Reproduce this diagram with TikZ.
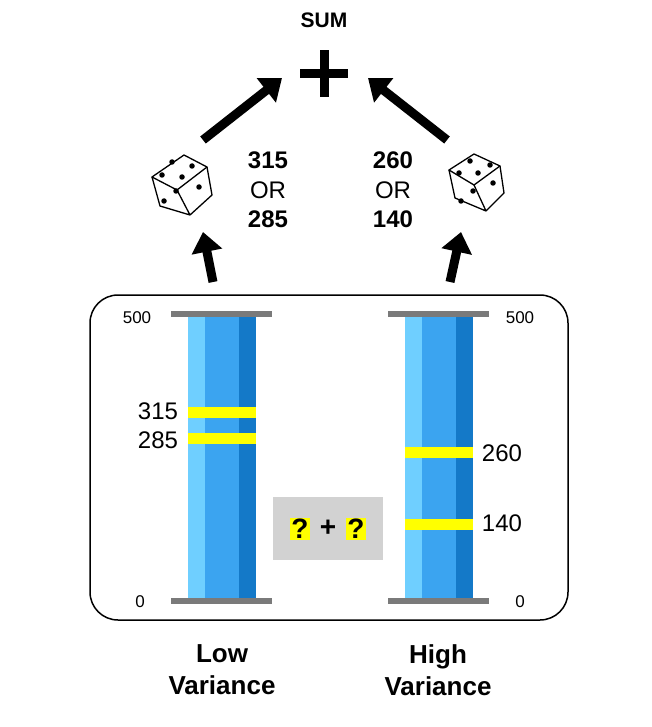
\documentclass[tikz,border=0pt]{standalone}
\usepackage{fontspec}
\setmainfont{Liberation Sans}
\usetikzlibrary{arrows.meta}
\definecolor{lb}{HTML}{6FCFFF}
\definecolor{mb}{HTML}{3BA4F0}
\definecolor{db}{HTML}{1479C8}
\definecolor{yl}{HTML}{FFFF00}
\definecolor{gb}{HTML}{7A7A7A}
\definecolor{qg}{HTML}{D2D2D2}
\begin{document}
\begin{tikzpicture}[x=1pt,y=-1pt,
  bigarrow/.style={line width=9pt,-{Triangle[length=20pt,width=30pt]}},
  lbl/.style={font=\fontsize{24}{24}\selectfont},
  blbl/.style={font=\bfseries\fontsize{26}{32}\selectfont,align=center},
  tick/.style={font=\fontsize{17}{17}\selectfont},
  qm/.style={font=\bfseries\fontsize{28}{28}\selectfont},
  dot/.style={fill=black,circle,inner sep=0pt,minimum size=5.5pt},
  die/.style={line width=1.3pt,line join=round}]
\useasboundingbox (0,0) rectangle (652,727);
\draw[line width=1.5pt,rounded corners=28pt] (90,295) rectangle (568,620);
% columns
\foreach \x in {188,405}{
  \fill[lb] (\x,315) rectangle (\x+17,600);
  \fill[mb] (\x+17,315) rectangle (\x+51,600);
  \fill[db] (\x+51,315) rectangle (\x+68,600);
  \fill[gb] (\x-17,311) rectangle (\x+84,317);
  \fill[gb] (\x-17,598) rectangle (\x+84,604);
}
\foreach \x/\y in {188/412,188/438,405/452,405/524}{
  \fill[yl] (\x,\y-5.5) rectangle (\x+68,\y+5.5);
}
\node[tick] (a500) at (137,318) {500};
\node[tick] (a0) at (140,602) {0};
\node[lbl] (a315) at (158,411) {315};
\node[lbl] (a285) at (158,440) {285};
\node[tick] (b500) at (520,318) {500};
\node[tick] (b0) at (520,602) {0};
\node[lbl] (b260) at (502,453) {260};
\node[lbl] (b140) at (502,523) {140};
% ? + ?
\fill[qg] (273,497) rectangle (383,560);
\node[fill=yl,inner sep=1.5pt,qm] (q1) at (300,529) {?};
\node[qm] (pl) at (328,528) {+};
\node[fill=yl,inner sep=1.5pt,qm] (q2) at (356,529) {?};
\node[blbl] (low) at (222,670) {Low\\Variance};
\node[blbl] (high) at (438,670) {High\\Variance};
\node[font=\bfseries\fontsize{21}{21}\selectfont] (sum) at (324,20) {SUM};
\fill (300,69) rectangle (348,78);
\fill (319.5,50) rectangle (328.5,97);
\node[align=center,font=\fontsize{24}{29.5}\selectfont] (lt) at (268,190) {\textbf{315}\\OR\\\textbf{285}};
\node[align=center,font=\fontsize{24}{29.5}\selectfont] (rt) at (393,190) {\textbf{260}\\OR\\\textbf{140}};
% arrows
\coordinate (l1) at (203,140); \coordinate (l2) at (282,78);
\coordinate (r1) at (447,140); \coordinate (r2) at (368,78);
\draw[bigarrow] (l1) -- (l2);
\draw[bigarrow] (r1) -- (r2);
\coordinate (l3) at (213,282); \coordinate (l4) at (203,232);
\coordinate (r3) at (450,282); \coordinate (r4) at (461,232);
\draw[bigarrow] (l3) -- (l4);
\draw[bigarrow] (r3) -- (r4);
% left die
\draw[die,fill=white] (152,177) -- (184,155) -- (207,167) -- (177,190) -- cycle;
\draw[die] (152,177) -- (160,206) -- (190,215) -- (177,190) (190,215) -- (212,195) -- (207,167);
\node[dot] at (172,162){}; \node[dot] at (192,166){}; \node[dot] at (162,175){}; \node[dot] at (182,177){};
\node[dot] at (164,201){}; \node[dot] at (176,191){};
\node[dot] at (199,187){};
% right die
\draw[die] (449,170) -- (474,154) -- (500,166) -- (474,185) -- cycle;
\draw[die] (449,170) -- (455,198) -- (486,211) -- (474,185) (486,211) -- (504,193) -- (500,166);
\node[dot] at (470,161){}; \node[dot] at (490,165){}; \node[dot] at (459,173){}; \node[dot] at (478,173){};
\node[dot] at (461,201){}; \node[dot] at (473,191){}; \node[dot] at (493,183){};
\end{tikzpicture}
\end{document}
